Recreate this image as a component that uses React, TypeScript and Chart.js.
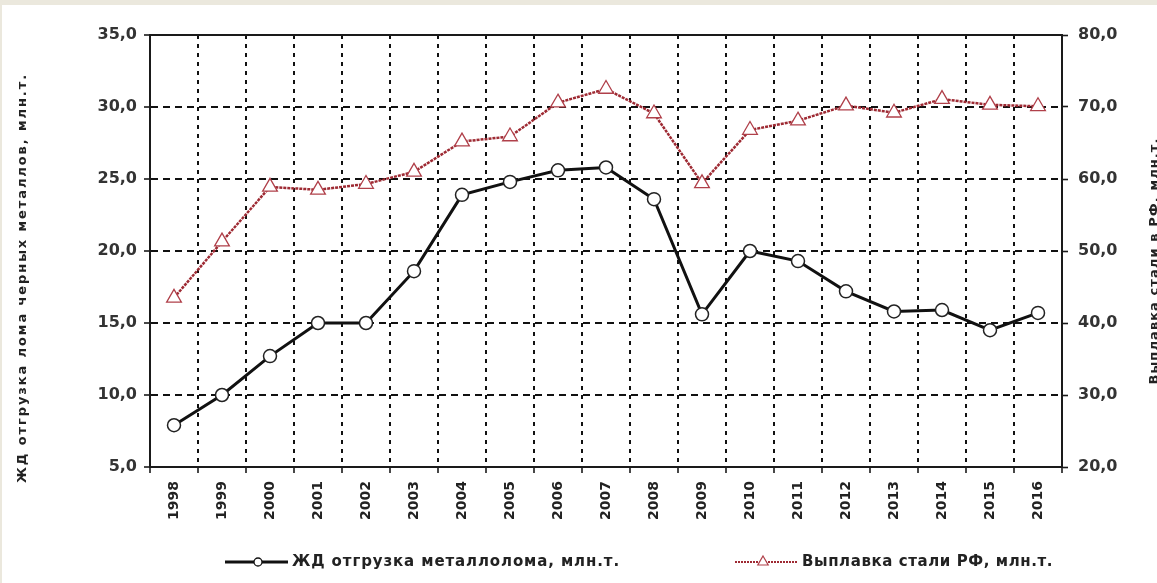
import React, { useEffect, useRef } from "react";
import { Chart, registerables } from "chart.js";

Chart.register(...registerables);

// ---- data ----
const years = ["1998", "1999", "2000", "2001", "2002", "2003", "2004", "2005", "2006", "2007", "2008", "2009", "2010", "2011", "2012", "2013", "2014", "2015", "2016"];
const scrapShipments = [7.9, 10.0, 12.7, 15.0, 15.0, 18.6, 23.9, 24.8, 25.6, 25.8, 23.6, 15.6, 20.0, 19.3, 17.2, 15.8, 15.9, 14.5, 15.7];
const steelOutput = [43.5, 51.3, 58.9, 58.5, 59.3, 61.0, 65.2, 65.9, 70.6, 72.5, 69.1, 59.4, 66.8, 68.1, 70.2, 69.2, 71.1, 70.3, 70.1];

const scrapLabel = "ЖД отгрузка металлолома, млн.т.";
const steelLabel = "Выплавка стали РФ, млн.т.";
const leftTitle = "ЖД отгрузка лома черных металлов, млн.т.";
const rightTitle = "Выплавка стали в РФ, млн.т.";

const leftAxis = { min: 5, max: 35, step: 5 };
const rightAxis = { min: 20, max: 80, step: 10 };

const FONT = "'DejaVu Sans', Verdana, sans-serif";
const fmt = (v: number) => v.toFixed(1).replace(".", ",");

function verticalText(ctx: CanvasRenderingContext2D, text: string, x: number, y: number, size: number, target: number) {
  ctx.save();
  ctx.translate(x, y);
  ctx.rotate(-Math.PI / 2);
  ctx.font = `bold ${size}px ${FONT}`;
  const w = ctx.measureText(text).width;
  const ls = Math.max(0, (target - w) / text.length);
  (ctx as any).letterSpacing = `${ls}px`;
  ctx.textAlign = "left";
  ctx.textBaseline = "middle";
  ctx.fillStyle = "#222";
  ctx.fillText(text, -target / 2, 0);
  ctx.restore();
}

function fittedText(ctx: CanvasRenderingContext2D, text: string, x: number, y: number, size: number, target: number) {
  ctx.save();
  ctx.font = `bold ${size}px ${FONT}`;
  const w = ctx.measureText(text).width;
  const ls = Math.max(0, (target - w) / text.length);
  (ctx as any).letterSpacing = `${ls}px`;
  ctx.textAlign = "left";
  ctx.textBaseline = "middle";
  ctx.fillStyle = "#222";
  ctx.fillText(text, x, y);
  ctx.restore();
}

const decorPlugin = {
  id: "decor",
  beforeDatasetsDraw(chart: any) {
    const { ctx, chartArea: a } = chart;
    ctx.save();
    ctx.strokeStyle = "#1a1a1a";
    ctx.lineWidth = 2;
    ctx.strokeRect(a.left, a.top, a.right - a.left, a.bottom - a.top);
    ctx.restore();
  },
  afterDraw(chart: any) {
    const { ctx } = chart;
    verticalText(ctx, leftTitle, 21, 273, 13, 410);
    verticalText(ctx, rightTitle, 1153, 256, 13, 247);

    // legend
    const ds0 = chart.data.datasets[0];
    const ds1 = chart.data.datasets[1];
    const ly = 557;
    ctx.save();
    // item 1
    ctx.strokeStyle = ds0.borderColor;
    ctx.lineWidth = 3;
    ctx.beginPath();
    ctx.moveTo(223, ly);
    ctx.lineTo(286, ly);
    ctx.stroke();
    ctx.fillStyle = "#fff";
    ctx.lineWidth = 1.3;
    ctx.beginPath();
    ctx.arc(256, ly, 4, 0, Math.PI * 2);
    ctx.fill();
    ctx.stroke();
    // item 2
    ctx.strokeStyle = ds1.borderColor;
    ctx.lineWidth = 2;
    ctx.setLineDash([2, 1]);
    ctx.beginPath();
    ctx.moveTo(733, ly);
    ctx.lineTo(796, ly);
    ctx.stroke();
    ctx.setLineDash([]);
    ctx.lineWidth = 1.2;
    ctx.strokeStyle = ds1.pointBorderColor;
    ctx.fillStyle = "#fff";
    const r = 6;
    ctx.beginPath();
    ctx.moveTo(761, ly - r);
    ctx.lineTo(761 + r * 0.866, ly + r / 2);
    ctx.lineTo(761 - r * 0.866, ly + r / 2);
    ctx.closePath();
    ctx.fill();
    ctx.stroke();
    ctx.restore();
    fittedText(ctx, ds0.label, 290, ly, 15, 328);
    fittedText(ctx, ds1.label, 800, ly, 15, 251);
  },
};

export default function App() {
  const ref = useRef<HTMLCanvasElement | null>(null);

  useEffect(() => {
    if (!ref.current) return;
    const hDash = [7, 5];
    const vDash = [4, 5];
    const chart = new Chart(ref.current, {
      type: "line",
      data: {
        labels: years,
        datasets: [
          {
            label: scrapLabel,
            data: scrapShipments,
            yAxisID: "y",
            borderColor: "#111111",
            borderWidth: 3,
            pointStyle: "circle",
            pointRadius: 6.5,
            pointBackgroundColor: "#ffffff",
            pointBorderColor: "#222222",
            pointBorderWidth: 1.5,
            tension: 0,
          },
          {
            label: steelLabel,
            data: steelOutput,
            yAxisID: "y1",
            borderColor: "#9e2a33",
            borderWidth: 2.5,
            borderDash: [3, 1],
            pointStyle: "triangle",
            pointRadius: 8.5,
            pointBackgroundColor: "#ffffff",
            pointBorderColor: "#b0404a",
            pointBorderWidth: 1.3,
            tension: 0,
          },
        ],
      },
      options: {
        responsive: true,
        maintainAspectRatio: false,
        animation: false,
        layout: { padding: { top: 30, left: 0, right: 0, bottom: 0 } },
        plugins: {
          legend: { display: false },
          tooltip: { enabled: false },
        },
        scales: {
          x: {
            offset: true,
            grid: {
              offset: true,
              color: "#111",
              lineWidth: 2,
              borderDash: vDash,
              drawTicks: true,
              tickLength: 6,
              tickColor: "#1a1a1a",
              tickWidth: 1.6,
            } as any,
            border: { display: true, color: "#1a1a1a", width: 2, dash: vDash } as any,
            ticks: {
              autoSkip: false,
              maxRotation: 90,
              minRotation: 90,
              padding: 8,
              color: "#222",
              font: { family: FONT, size: 14, weight: "bold" },
            },
            afterFit: (s: any) => {
              s.height = 116;
            },
          },
          y: {
            position: "left",
            min: leftAxis.min,
            max: leftAxis.max,
            grid: {
              color: "#111",
              lineWidth: 2,
              borderDash: hDash,
              tickLength: 6,
              tickColor: "#1a1a1a",
              tickWidth: 1.6,
            } as any,
            border: { display: true, color: "#1a1a1a", width: 2, dash: hDash } as any,
            ticks: {
              stepSize: leftAxis.step,
              padding: 7,
              color: "#333",
              font: { family: FONT, size: 16, weight: "bold" },
              callback: (v: any) => fmt(Number(v)),
            },
            afterFit: (s: any) => {
              s.width = 148;
            },
          },
          y1: {
            position: "right",
            min: rightAxis.min,
            max: rightAxis.max,
            grid: {
              drawOnChartArea: false,
              tickLength: 6,
              tickColor: "#1a1a1a",
              tickWidth: 1.6,
            } as any,
            border: { display: true, color: "#444", width: 2 } as any,
            ticks: {
              stepSize: rightAxis.step,
              padding: 10,
              color: "#333",
              font: { family: FONT, size: 16, weight: "bold" },
              callback: (v: any) => fmt(Number(v)),
            },
            afterFit: (s: any) => {
              s.width = 95;
            },
          },
        },
      } as any,
      plugins: [decorPlugin],
    });
    return () => chart.destroy();
  }, []);

  return (
    <div style={{ position: "fixed", left: 0, top: 0, width: 1157, height: 583, background: "#ebe8dd", overflow: "hidden" }}>
      <div style={{ position: "absolute", left: 2, top: 5, width: 1155, height: 578, background: "#ffffff" }}>
        <canvas ref={ref} />
      </div>
    </div>
  );
}
